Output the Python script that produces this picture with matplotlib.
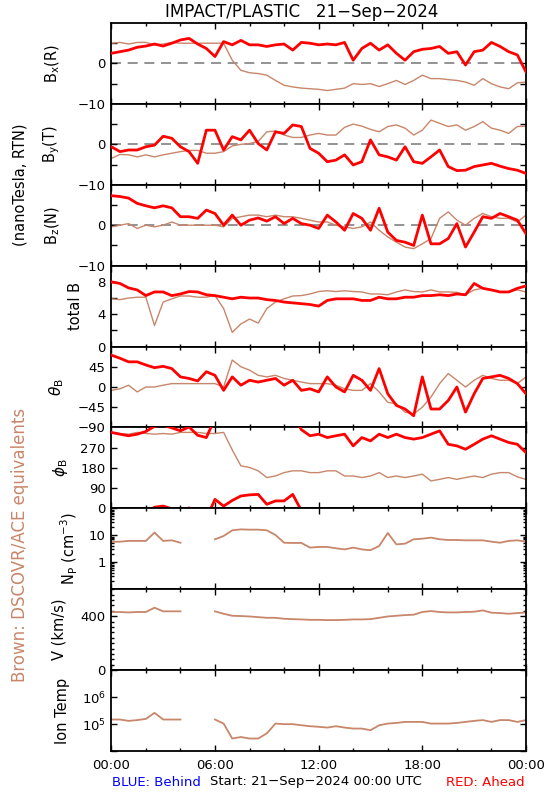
import numpy as np
import matplotlib
matplotlib.use("Agg")
import matplotlib.pyplot as plt
from matplotlib.ticker import FixedLocator, MultipleLocator, LogLocator, NullFormatter

# time in hours, every 30 minutes
hours = np.arange(0, 24.01, 0.5)

# magnetic field, nT (red: STEREO Ahead, brown: DSCOVR/ACE)
bx_red = [2.5, 2.9, 3.3, 4.0, 4.3, 4.8, 4.3, 5.0, 5.8, 6.2, 4.8, 3.7, 1.7, 5.4, 4.6, 5.7, 4.6, 4.6,
          4.2, 4.6, 4.8, 3.3, 5.2, 5.0, 4.6, 4.8, 4.6, 5.2, 0.8, 3.7, 5.0, 3.3, 4.6, 2.5, 0.8, 2.9,
          3.5, 3.7, 4.2, 2.5, 2.9, -0.4, 2.9, 3.3, 5.2, 4.2, 2.9, 2.1, -2.1]
bx_brown = [5.0, 5.2, 4.8, 5.2, 5.2, 4.6, 4.8, 5.2, 5.0, 5.0, 5.0, 5.0, 5.0, 5.0, 0.8, -1.7, -2.3, -2.5,
            -2.9, -4.2, -5.4, -5.8, -6.1, -6.25, -6.4, -6.7, -6.4, -6.1, -5.0, -5.2, -5.0, -5.7, -5.0,
            -4.2, -5.2, -4.2, -2.9, -3.75, -3.75, -4.0, -4.2, -4.6, -5.4, -3.75, -5.0, -5.8, -6.25, -4.8, -4.6]
by_red = [-0.6, -1.8, -1.4, -1.4, -0.6, -0.2, 2.0, 1.5, -0.6, -1.8, -4.7, 3.5, 3.5, -1.4, 1.9, 1.1, 3.5,
          0.2, -1.4, 3.1, 2.7, 4.8, 4.4, -1.0, -2.2, -4.3, -3.9, -2.6, -5.1, -4.3, 1.1, -2.6, -3.1, -3.9,
          -0.6, -4.3, -4.7, -3.1, -1.4, -5.5, -6.5, -6.4, -5.5, -5.1, -4.7, -5.4, -6.0, -6.4, -7.2]
by_brown = [-3.5, -2.5, -2.6, -3.1, -2.6, -3.1, -2.6, -2.2, -1.8, -1.5, -1.5, -2.2, -2.2, -1.8, -0.4, 0.0,
            0.2, 0.7, 3.1, 3.3, 2.3, 1.7, 1.7, 2.3, 2.7, 2.3, 2.3, 4.2, 5.0, 4.5, 3.7, 3.1, 4.4, 4.8, 4.0,
            2.3, 3.5, 6.0, 5.2, 4.4, 4.8, 3.5, 4.4, 5.6, 4.0, 3.5, 2.7, 4.4, 4.5]
bz_red = [7.3, 7.1, 6.7, 5.4, 4.8, 4.3, 4.8, 4.3, 2.1, 2.1, 1.7, 3.75, 2.9, 0.0, 2.5, 0.0, 1.25, 1.8, 1.0,
          2.1, 0.4, 1.7, 0.4, 0.0, -0.8, 2.5, 0.8, -1.25, 2.9, 1.7, -1.25, 4.2, -1.7, -3.75, -4.2, -5.0,
          2.5, -4.6, -4.6, -3.3, 0.4, -5.4, -1.7, 2.1, 1.7, 2.9, 2.1, 1.25, -2.1]
bz_brown = [-0.4, 0.0, 0.4, -0.8, 0.0, -0.4, 0.0, 0.8, 0.0, 0.0, 0.0, 0.0, 0.0, -0.4, 1.7, 2.1, 2.5, 2.5,
            2.1, 2.5, 2.1, 2.1, 1.7, 1.25, 0.8, 0.8, 0.0, -0.4, -0.8, -0.4, 0.8, -1.25, -2.9, -4.2, -5.4,
            -5.8, -4.6, -3.3, 1.7, 3.3, 1.25, 0.0, 1.7, 2.9, 2.1, 1.7, 1.7, 0.8, 2.5]
bt_red = [8.0, 7.8, 7.25, 7.0, 6.3, 6.75, 6.75, 6.3, 6.5, 6.8, 6.75, 6.4, 6.3, 6.1, 5.9, 6.1, 6.0, 6.0,
          5.8, 5.7, 5.5, 5.4, 5.3, 5.2, 5.0, 5.7, 5.9, 5.9, 5.9, 5.7, 5.7, 6.1, 5.9, 5.9, 6.1, 6.1, 6.3,
          6.3, 6.4, 6.3, 6.5, 6.4, 7.8, 7.2, 7.0, 6.75, 6.75, 7.2, 7.5]
bt_brown = [5.9, 5.8, 6.0, 6.1, 6.1, 2.6, 5.5, 5.9, 6.25, 6.25, 6.1, 6.1, 6.3, 4.7, 1.75, 2.8, 3.4, 2.9,
            4.7, 5.5, 5.9, 6.25, 6.3, 6.5, 6.8, 6.9, 6.8, 6.9, 6.8, 6.75, 6.5, 6.5, 6.4, 6.75, 7.0, 6.8,
            6.75, 7.0, 6.75, 6.75, 6.7, 6.4, 7.0, 7.2, 7.0, 6.75, 6.75, 7.0, 6.75]
theta_red = [71, 64, 56, 56, 49, 43, 46, 41, 22.5, 19, 13.5, 34, 26, -7.5, 22.5, 4, 15, 11, 15, 19, 4, 15,
             -7.5, -4, -11, 22.5, 0, -11, 26, 15, -7.5, 41, -15, -41, -49, -64, 22.5, -49, -49, -30, 0,
             -56, -15, 19, 22.5, 26, 19, 7.5, -15]
theta_brown = [-7.5, -4, 4, -11, 0, 0, 4, 7.5, 7.5, 7.5, 7.5, 7.5, 7.5, 0, 60, 45, 37.5, 26, 22.5, 26,
               19, 15, 11, 7.5, 7.5, 7.5, 4, -4, -7.5, -7.5, 7.5, -11, -34, -37.5, -56, -60, -45, -22.5,
               7.5, 30, 15, 0, 15, 26, 19, 15, 15, 7.5, 22.5]
# phi kept unwrapped (values above 360 show up near 0)
phi_red = [338, 330, 323, 330, 342, 365, 370, 358, 345, 362, 325, 315, 400, 370, 395, 415, 420, 422, 378,
           393, 393, 422, 350, 323, 330, 315, 323, 330, 278, 315, 300, 330, 315, 330, 315, 308, 315, 330,
           345, 285, 278, 263, 285, 308, 323, 308, 293, 285, 248]
phi_brown = [338, 333, 330, 338, 333, 330, 333, 330, 338, 338, 338, 333, 333, 338, 260, 189, 182, 167, 137,
             144, 159, 167, 167, 159, 159, 167, 167, 144, 144, 137, 144, 159, 137, 144, 137, 144, 152, 122,
             129, 137, 129, 137, 144, 137, 152, 159, 159, 140, 129]

# plasma (brown only), gap between 04:00 and 06:00
nan = np.nan
np_brown = [5.7, 5.8, 6.2, 6.2, 6.2, 12.6, 6.2, 6.5, 5.3, nan, nan, nan, 7.1, 9.4, 15.3, 16.6, 16.2, 16.2,
            15.3, 10.3, 5.3, 5.2, 5.2, 3.5, 3.7, 3.7, 3.3, 3.0, 3.5, 3.0, 2.8, 4.0, 12.2, 4.6, 4.9, 7.1,
            7.5, 8.2, 7.1, 6.7, 6.7, 6.5, 6.5, 6.5, 5.8, 5.3, 6.2, 6.5, 5.8]
v_brown = [431, 431, 428, 431, 431, 463, 436, 436, 436, nan, nan, nan, 436, 418, 403, 401, 398, 393, 388,
           388, 381, 378, 376, 373, 373, 371, 371, 373, 376, 376, 378, 388, 398, 403, 408, 411, 431, 438,
           431, 428, 428, 431, 433, 443, 426, 423, 418, 423, 428]
temp_brown = [1.47e5, 1.47e5, 1.31e5, 1.4e5, 1.55e5, 2.6e5, 1.47e5, 1.47e5, 1.47e5, nan, nan, nan, 1.47e5,
              1.04e5, 2.9e4, 3.3e4, 2.9e4, 2.9e4, 4.5e4, 1.04e5, 9.9e4, 9.9e4, 9.0e4, 8.3e4, 7.9e4, 7.4e4,
              8.3e4, 7.4e4, 6.8e4, 6.8e4, 5.9e4, 9.0e4, 1.04e5, 1.1e5, 1.2e5, 1.2e5, 1.2e5, 1.04e5, 1.04e5,
              1.04e5, 1.1e5, 1.2e5, 1.31e5, 1.4e5, 1.2e5, 1.4e5, 1.4e5, 1.2e5, 1.4e5]

RED = "#ff0000"
BROWN = "#c8866a"

fig = plt.figure(figsize=(5.5, 8), dpi=100)
plt.rcParams["font.family"] = "DejaVu Sans"

left_px, right_px = 111.3, 526.0
top_px, bot_px = 23.0, 751.0
n = 9
ph = (bot_px - top_px) / n
axes = []
for i in range(n):
    y0 = 1 - (top_px + (i + 1) * ph) / 800
    ax = fig.add_axes([left_px / 550, y0, (right_px - left_px) / 550, ph / 800])
    axes.append(ax)

for ax in axes:
    ax.set_xlim(0, 24)
    ax.xaxis.set_major_locator(MultipleLocator(6))
    ax.xaxis.set_minor_locator(MultipleLocator(2))
    ax.tick_params(which="both", direction="in", top=True, right=True, labelsize=9.5, pad=4)
    ax.tick_params(which="major", length=4, width=1)
    ax.tick_params(which="minor", length=2.5, width=1)
    ax.set_xticklabels([])
    for s in ax.spines.values():
        s.set_linewidth(1.3)

# B components
comp = [("B$_\\mathregular{x}$(R)", bx_red, bx_brown),
        ("B$_\\mathregular{y}$(T)", by_red, by_brown),
        ("B$_\\mathregular{z}$(N)", bz_red, bz_brown)]
for ax, (lab, red, brown) in zip(axes[:3], comp):
    ax.axhline(0, color="#808080", lw=1.2, dashes=(6, 4), zorder=1)
    ax.plot(hours, brown, color=BROWN, lw=1.0, zorder=2)
    ax.plot(hours, red, color=RED, lw=2.0, zorder=3)
    ax.set_ylim(-10, 10)
    ax.yaxis.set_major_locator(FixedLocator([-10, -5, 0, 5]))
    ax.set_yticklabels(["\u221210", "", "0", ""])
    ax.set_ylabel(lab, fontsize=10.5)
    ax.yaxis.set_label_coords(-0.119, 0.5)

ax = axes[3]
ax.plot(hours, bt_brown, color=BROWN, lw=1.0, zorder=2)
ax.plot(hours, bt_red, color=RED, lw=2.0, zorder=3)
ax.set_ylim(0, 10)
ax.yaxis.set_major_locator(FixedLocator([0, 2, 4, 6, 8]))
ax.set_yticklabels(["0", "", "4", "", "8"])
ax.set_ylabel("total B", fontsize=10.5)
ax.yaxis.set_label_coords(-0.068, 0.5)

ax = axes[4]
ax.plot(hours, theta_brown, color=BROWN, lw=1.0, zorder=2)
ax.plot(hours, theta_red, color=RED, lw=2.0, zorder=3)
ax.set_ylim(-90, 90)
ax.yaxis.set_major_locator(FixedLocator([-90, -45, 0, 45]))
ax.set_yticklabels(["\u221290", "\u221245", "0", "45"])
ax.set_ylabel("$\\theta_\\mathregular{B}$", fontsize=11)
ax.yaxis.set_label_coords(-0.109, 0.5)

ax = axes[5]
for shift in (0, 360):
    ax.plot(hours, np.array(phi_brown) - shift, color=BROWN, lw=1.0, zorder=2)
    ax.plot(hours, np.array(phi_red) - shift, color=RED, lw=2.0, zorder=3)
ax.set_ylim(0, 360)
ax.yaxis.set_major_locator(FixedLocator([0, 90, 180, 270]))
ax.set_ylabel("$\\phi_\\mathregular{B}$", fontsize=11)
ax.yaxis.set_label_coords(-0.1, 0.5)

ax = axes[6]
ax.plot(hours, np_brown, color=BROWN, lw=1.3)
ax.set_yscale("log")
ax.set_ylim(0.1, 100)
ax.yaxis.set_major_locator(FixedLocator([0.1, 1, 10, 100]))
ax.set_yticklabels(["", "1", "10", ""])
ax.yaxis.set_minor_locator(LogLocator(base=10, subs=np.arange(2, 10)))
ax.yaxis.set_minor_formatter(NullFormatter())
ax.set_ylabel("N$_\\mathregular{P}$ (cm$^{\\mathregular{-3}}$)", fontsize=10.5)
ax.yaxis.set_label_coords(-0.075, 0.5)

ax = axes[7]
ax.plot(hours, v_brown, color=BROWN, lw=1.3)
ax.set_ylim(0, 600)
ax.yaxis.set_major_locator(FixedLocator([0, 400]))
ax.yaxis.set_minor_locator(MultipleLocator(40))
ax.set_ylabel("V (km/s)", fontsize=10.5)
ax.yaxis.set_label_coords(-0.109, 0.5)

ax = axes[8]
ax.plot(hours, temp_brown, color=BROWN, lw=1.3)
ax.set_yscale("log")
ax.set_ylim(1e4, 1e7)
ax.yaxis.set_major_locator(FixedLocator([1e4, 1e5, 1e6, 1e7]))
ax.set_yticklabels(["", "10$^\\mathregular{5}$", "10$^\\mathregular{6}$", ""])
ax.yaxis.set_minor_locator(FixedLocator([]))
ax.set_ylabel("Ion Temp", fontsize=10.5)
ax.yaxis.set_label_coords(-0.1, 0.5)

axes[-1].set_xticks([0, 6, 12, 18, 24])
axes[-1].set_xticklabels(["00:00", "06:00", "12:00", "18:00", "00:00"])
axes[-1].tick_params(axis="x", pad=6)

fig.text(302 / 550, 1 - 12 / 800, "IMPACT/PLASTIC   21\u2212Sep\u22122024", ha="center", va="center", fontsize=12)
fig.text(20 / 550, 1 - 185 / 800, "(nanoTesla, RTN)", rotation=90, ha="center", va="center", fontsize=10.5)
fig.text(20 / 550, 1 - 545 / 800, "Brown: DSCOVR/ACE equivalents", rotation=90, ha="center", va="center",
         fontsize=12, color=BROWN)
fig.text(112 / 550, 1 - 782 / 800, "BLUE: Behind", color="#0000ff", ha="left", va="center", fontsize=9.5)
fig.text(210 / 550, 1 - 782 / 800, "Start: 21\u2212Sep\u22122024 00:00 UTC", ha="left", va="center", fontsize=9.5)
fig.text(525 / 550, 1 - 782 / 800, "RED: Ahead", color=RED, ha="right", va="center", fontsize=9.5)

fig.savefig("out.png", dpi=100)
